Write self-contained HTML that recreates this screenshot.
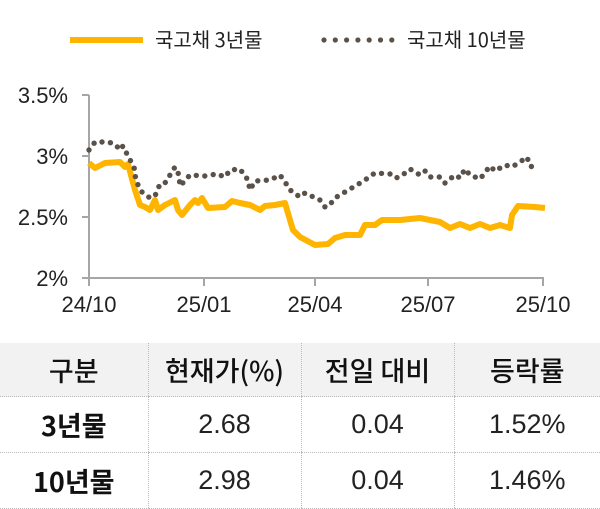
<!DOCTYPE html><html><head><meta charset="utf-8"><style>
body{margin:0;width:600px;height:504px;background:#fff;font-family:"Liberation Sans","Noto Sans CJK KR",sans-serif;overflow:hidden;position:relative}
table{position:absolute;left:0;top:343px;width:600px;border-collapse:collapse;table-layout:fixed;font-family:"Noto Sans CJK KR",sans-serif}
td{text-align:center;font-size:27px;color:#111;padding:0;border-left:1px dotted #bbb;border-bottom:1px dotted #bbb;white-space:nowrap;overflow:visible}
td:first-child{border-left:none;font-weight:bold}
tr.h td{background:#f2f2f2;height:53px;font-weight:500}
tr.r td{height:55px}
td.n{font-family:"Liberation Sans","Noto Sans CJK KR",sans-serif;font-size:27px;color:#222}
</style></head><body>
<svg width="600" height="340" style="position:absolute;left:0;top:0" font-family="Liberation Sans, Noto Sans CJK KR, sans-serif">
<line x1="70" y1="40" x2="143" y2="40" stroke="#FFB400" stroke-width="6"/>
<text x="155" y="47" font-size="20" fill="#222" font-family="Noto Sans CJK KR, sans-serif">국고채 3년물</text>
<g fill="#5a524a" id="lg"></g>
<text x="407" y="47" font-size="20" fill="#222" font-family="Noto Sans CJK KR, sans-serif">국고채 10년물</text>
<g stroke="#a6a6a6" stroke-width="2">
<line x1="89" y1="95" x2="89" y2="279"/><line x1="89" y1="278" x2="544" y2="278"/>
<line x1="82" y1="95" x2="89" y2="95"/><line x1="82" y1="156" x2="89" y2="156"/><line x1="82" y1="217" x2="89" y2="217"/><line x1="82" y1="278" x2="89" y2="278"/>
<line x1="89" y1="278" x2="89" y2="286"/><line x1="204" y1="278" x2="204" y2="286"/><line x1="315" y1="278" x2="315" y2="286"/><line x1="428" y1="278" x2="428" y2="286"/><line x1="543" y1="278" x2="543" y2="286"/>
</g>
<g font-size="22" fill="#222" text-anchor="end">
<text x="68" y="103">3.5%</text><text x="68" y="164">3%</text><text x="68" y="225">2.5%</text><text x="68" y="286">2%</text>
</g>
<g font-size="22" fill="#222" text-anchor="middle">
<text x="89" y="312">24/10</text><text x="204" y="312">25/01</text><text x="315" y="312">25/04</text><text x="428" y="312">25/07</text><text x="543" y="312">25/10</text>
</g>
<polyline fill="none" stroke="#FFB400" stroke-width="6" stroke-linejoin="round" points="89,163 95,168 105,163 120,162 125,167 128,164 135,190 140,205 145,207 150,210 155,200 158,210 165,205 175,200 178,210 182,215 186,210 190,205 195,200 198,203 202,198 208,208 225,207 232,201 240,203 250,205 260,210 265,206 275,205 285,203 290,220 293,230 300,237 315,245 328,244 335,238 345,235 360,235 365,225 375,225 382,220 400,220 420,218 440,222 450,228 460,224 470,228 480,224 490,228 500,225 510,228 512,215 518,206 535,207 545,208"/>
<g fill="#5a524a" id="d"></g>
</svg>
<table>
<colgroup><col style="width:148px"><col style="width:153px"><col style="width:153px"><col style="width:146px"></colgroup>
<tr class="h"><td>구분</td><td>현재가(%)</td><td>전일 대비</td><td>등락률</td></tr>
<tr class="r"><td>3년물</td><td class="n">2.68</td><td class="n">0.04</td><td class="n">1.52%</td></tr>
<tr class="r"><td>10년물</td><td class="n">2.98</td><td class="n">0.04</td><td class="n">1.46%</td></tr>
</table>
<script>
var p=[[89,150],[95,142],[108,142],[115,144],[120,150],[123,146],[129,158],[134,167],[136,181],[142,192],[150,198],[155,196],[160,184],[165,183],[175,167],[179,175],[180,186],[190,175],[205,176],[217,174],[225,177],[230,170],[240,169],[248,180],[250,190],[255,181],[270,180],[280,175],[285,182],[290,190],[300,197],[305,193],[320,200],[325,207],[329,206],[335,198],[355,186],[362,182],[375,173],[390,174],[395,178],[400,177],[410,169],[420,175],[425,171],[430,177],[440,177],[445,183],[455,175],[460,178],[465,169],[470,175],[480,179],[490,166],[495,171],[505,165],[512,167],[520,162],[527,157],[530,166],[536,168]];
var g=document.getElementById('d'),s='',acc=0;
for(var i=1;i<p.length;i++){var a=p[i-1],b=p[i],L=Math.hypot(b[0]-a[0],b[1]-a[1]);while(acc<=L){var t=acc/L;s+='<circle cx="'+(a[0]+(b[0]-a[0])*t).toFixed(1)+'" cy="'+(a[1]+(b[1]-a[1])*t).toFixed(1)+'" r="2.7"/>';acc+=8.5;}acc-=L;}
g.innerHTML=s;
var l='';for(var x=324;x<=392;x+=11.3)l+='<circle cx="'+x+'" cy="40" r="2.6"/>';document.getElementById('lg').innerHTML=l;
</script>
</body></html>
